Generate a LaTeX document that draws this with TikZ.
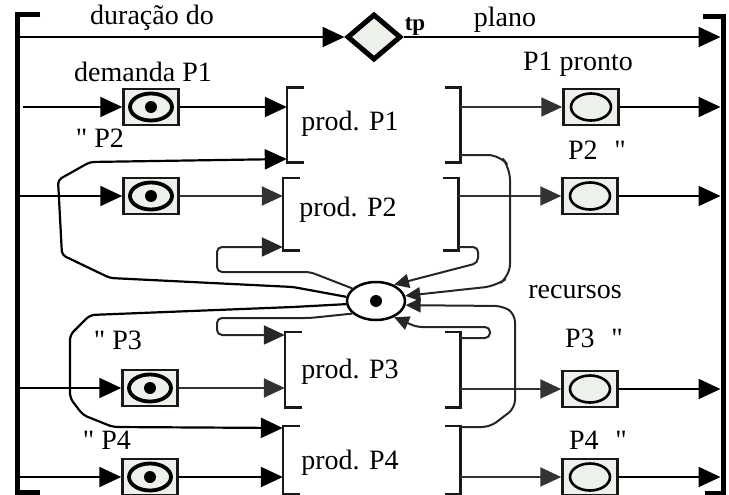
\documentclass[tikz,border=0pt]{standalone}
\usepackage{fontspec}
\setmainfont{Liberation Serif}[Ligatures=TeXOff]
\usetikzlibrary{arrows.meta,shapes.geometric}
\definecolor{boxfill}{RGB}{236,241,234}
\begin{document}
\begin{tikzpicture}[x=1pt,y=-1pt,
  lbl/.style={font=\fontsize{28}{30}\selectfont, inner sep=0pt},
  bar/.style={line width=5pt},
  conn/.style={line width=2.2pt, -{Triangle[length=22pt,width=20pt]}},
  gconn/.style={line width=2pt, draw=black!80, -{Triangle[length=21pt,width=19pt]}},
  rconn/.style={line width=2pt, draw=black!85, rounded corners=5pt, -{Triangle[length=15pt,width=14pt]}},
  place/.style={draw=black!90, line width=2.5pt, fill=boxfill, minimum width=55pt, minimum height=36pt, inner sep=0pt},
  trans/.style={minimum width=#1, inner sep=0pt, draw=none},
  brk/.style={line width=2.6pt, draw=black!90},
]
\useasboundingbox (0,0) rectangle (729,495);

% frame bars
\coordinate (LT) at (17,15);
\coordinate (LB) at (17,492);
\coordinate (RT) at (723,17);
\coordinate (RB) at (723,493);
\draw[bar] (40,15) -- (LT) -- (LB) -- (40,492);
\draw[bar] (703,17) -- (RT) -- (RB) -- (705,493);

% top: diamond tp
\node[diamond, draw, line width=5pt, fill=boxfill, minimum width=54pt, minimum height=46pt, aspect=1.17, inner sep=0pt] (tp) at (374,37) {};
\draw[conn] (LT |- tp.west) -- (tp.west);
\draw[conn, shorten >=2.5pt] (tp.east) -- (RT |- tp.east);
\node[lbl] (dur) at (152,18) {duração do};
\node[lbl] (plano) at (505,20) {plano};
\node[inner sep=0pt, font=\fontsize{23}{25}\selectfont\bfseries] (tplbl) at (415,26) {tp};

% left places (demand)
\node[place] (p1L) at (151,107) {};
\node[place] (p2L) at (151,196) {};
\node[place] (p3L) at (150,388) {};
\node[place] (p4L) at (150,477) {};
% right places (ready)
\node[place] (p1R) at (591,107) {};
\node[place] (p2R) at (590,196) {};
\node[place] (p3R) at (590,389) {};
\node[place] (p4R) at (590,477) {};
\foreach \p in {p1L,p2L,p3L,p4L}{
  \draw[line width=3.8pt] (\p) ellipse [x radius=21pt, y radius=13.5pt];
  \fill (\p) circle[radius=6pt];
}
\foreach \p in {p1R,p2R,p3R,p4R}{
  \draw[line width=2.6pt] (\p) ellipse [x radius=20pt, y radius=13.5pt];
}

% transitions (brackets)
\node[trans=173pt, minimum height=74pt] (t1) at (373.5,125) {};
\node[trans=175pt, minimum height=72pt] (t2) at (370.5,214) {};
\node[trans=175pt, minimum height=75pt] (t3) at (372.5,369.5) {};
\node[trans=177pt, minimum height=68pt] (t4) at (371.5,460) {};
\foreach \t in {t1,t2,t3,t4}{
  \draw[brk] ([xshift=17pt]\t.north west) -- (\t.north west) -- (\t.south west) -- ([xshift=17pt]\t.south west);
  \draw[brk] ([xshift=-15pt]\t.north east) -- (\t.north east) -- (\t.south east) -- ([xshift=-15pt]\t.south east);
}
\node[lbl] (l1) at (350,124) {prod. P1};
\node[lbl] (l2) at (348,210) {prod. P2};
\node[lbl] (l3) at (350,372) {prod. P3};
\node[lbl] (l4) at (350,463) {prod. P4};

% resources place
\node[draw, ellipse, line width=2.5pt, fill=white, minimum width=58pt, minimum height=38pt, inner sep=0pt] (rec) at (376,301) {};
\fill (rec) circle[radius=6pt];
\node[lbl] (reclbl) at (575,292) {recursos};

% labels
\node[lbl] (d1) at (143,72) {demanda P1};
\node[lbl] (d2) at (100,138) {" P2};
\node[lbl] (d3) at (118,340) {" P3};
\node[lbl] (d4) at (107,440) {" P4};
\node[lbl] (r1) at (578,64) {P1 pronto};
\node[lbl] (r2) at (597,150) {P2\hspace{0.6em}"};
\node[lbl] (r3) at (594,338) {P3\hspace{0.6em}"};
\node[lbl] (r4) at (598,440) {P4\hspace{0.6em}"};

% demand inputs
\coordinate (in1) at (23,107);
\draw[conn] (in1) -- (p1L);
\draw[conn] (LB |- p2L) -- (p2L);
\draw[conn] (LB |- p3L) -- (p3L);
\draw[conn] (LB |- p4L) -- (p4L);
\draw[conn] (p1L) -- (t1.west |- p1L);
\draw[gconn] (p2L) -- (t2.west |- p2L);
\draw[gconn] (p3L) -- (t3.west |- p3L);
\draw[conn] (p4L) -- (t4.west |- p4L);

% outputs
\draw[gconn] (t1.east |- p1R) -- (p1R);
\draw[gconn] (t2.east |- p2R) -- (p2R);
\draw[gconn] (t3.east |- p3R) -- (p3R);
\draw[gconn] (t4.east |- p4R) -- (p4R);
\draw[conn, shorten >=2.5pt] (p1R) -- (RT |- p1R);
\draw[conn, shorten >=2.5pt] (p2R) -- (RT |- p2R);
\draw[conn, shorten >=2.5pt] (p3R) -- (RT |- p3R);
\draw[conn, shorten >=2.5pt] (p4R) -- (RT |- p4R);

% resources to transitions
\draw[line width=2.2pt, rounded corners=4pt, -{Triangle[length=22pt,width=20pt]}]
  (rec.172) -- (293,287) -- (110,278) -- (62,255) -- (58,180) -- (90,162) -- (t1.west |- 0,159);
\draw[rconn, -{Triangle[length=21pt,width=19pt]}]
  (rec.152) -- (310,272) -- (217,272) -- (217,247) -- (t2.west |- 0,247);
\draw[rconn, -{Triangle[length=21pt,width=19pt]}]
  (rec.208) -- (310,318) -- (217,318) -- (217,335) -- (t3.west |- 0,335);
\draw[line width=2.2pt, rounded corners=5pt, -{Triangle[length=22pt,width=20pt]}]
  (rec.186) -- (293,307) -- (90,315) -- (70,335) -- (70,398) -- (83,415) -- (113,427) -- (t4.west |- 0,428);

% transitions back to resources
\draw[rconn, rounded corners=12pt] (t1.east |- 0,155) -- (500,155) -- (510,168) -- (510,276) -- (496,286) -- (rec.10);
\draw[rconn] (t2.east |- 0,247) -- (478,247) -- (478,263) -- (rec.42);
\draw[rconn] (t3.east |- 0,338) -- (490,338) -- (490,327) -- (417,327) -- (rec.-42);
\draw[rconn, rounded corners=8pt] (t4.east |- 0,427) -- (490,427) -- (515,408) -- (515,314) -- (503,306) -- (rec.-8);
\end{tikzpicture}
\end{document}
